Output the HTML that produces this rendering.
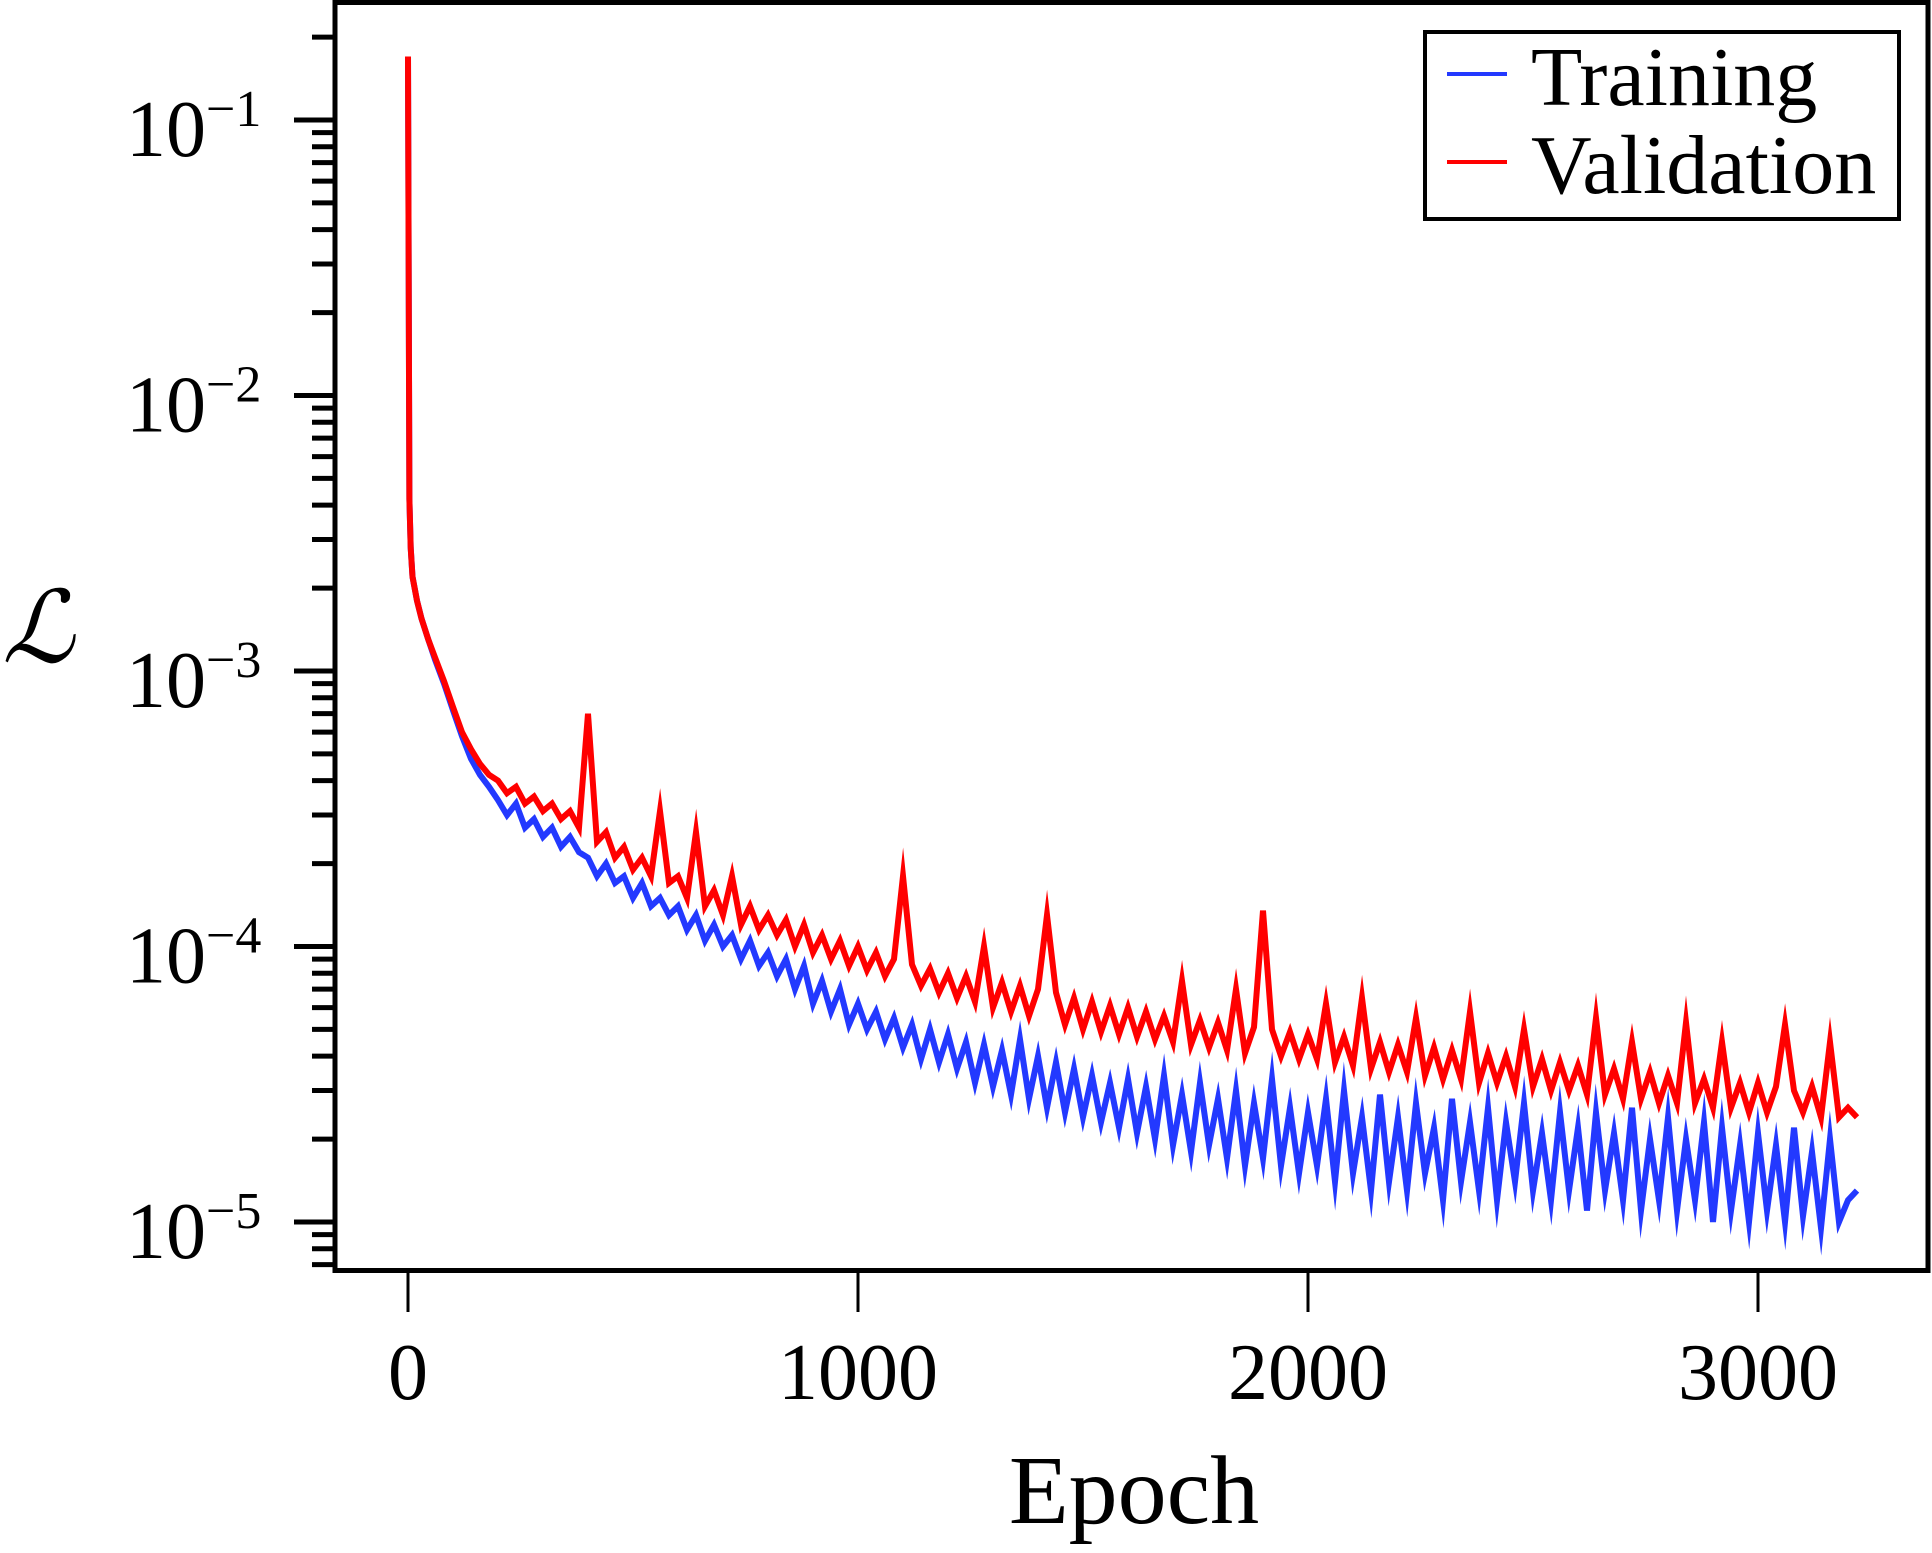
<!DOCTYPE html>
<html><head><meta charset="utf-8"><style>
html,body{margin:0;padding:0;background:#fff;}
svg{display:block;font-family:"Liberation Serif",serif;}
</style></head><body>
<svg id="chart" width="1932" height="1553" viewBox="0 0 1932 1553" xmlns="http://www.w3.org/2000/svg">
<g id="ticks"></g>
<g id="series"></g>
<rect x="335" y="2.5" width="1593" height="1268" fill="none" stroke="#000" stroke-width="5"/>
<text x="38" y="662" font-size="100" font-style="italic" text-anchor="middle" font-family="DejaVu Serif, serif">ℒ</text>
<text x="1134" y="1523" font-size="98" text-anchor="middle">Epoch</text>
<g>
<rect x="1425" y="32" width="474" height="187" fill="#fff" stroke="#000" stroke-width="4"/>
<line x1="1447" y1="74" x2="1507" y2="74" stroke="#2339ff" stroke-width="4"/>
<text x="1531" y="105" font-size="84">Training</text>
<line x1="1447" y1="162" x2="1507" y2="162" stroke="#ff0000" stroke-width="4"/>
<text x="1531" y="193" font-size="84">Validation</text>
</g>
</svg>
<script>
const xTicks = [0, 1000, 2000, 3000];
const yDecades = [-1, -2, -3, -4, -5];
const earlyEpochs = [0,3,6,10,20,30,45,60,80,100,120,140,160,180];
const trainingEarly = [17000,420,280,220,180,155,130,110,90,72,58,48,42,38];
const validationEarly = [17000,420,280,220,180,155,130,112,92,74,60,52,46,42];
const trainingLate = [
34,30,33,27,29,25,27,23,25,22,
21,18,20,17,18,15,17,14,15,13,
14,11.5,13,10.5,12,10,11,9,10.5,8.5,
9.5,7.8,9,7,8.5,6.2,7.5,5.8,7,5.2,
6.2,5,5.8,4.6,5.5,4.3,5.2,3.9,5,3.8,
4.8,3.6,4.5,3.2,4.4,3.1,4.2,2.9,4.6,2.8,
4,2.6,3.8,2.5,3.6,2.4,3.4,2.3,3.2,2.2,
3.3,2.1,3.1,2,3.4,1.9,2.9,1.8,3.2,1.9,
2.8,1.7,3,1.6,2.7,1.7,3.3,1.6,2.6,1.5,
2.5,1.6,2.8,1.4,3,1.5,2.4,1.3,2.9,1.4,
2.4,1.3,2.7,1.5,2.2,1.2,2.8,1.4,2.3,1.3,
2.6,1.2,2.3,1.4,2.7,1.3,2.1,1.2,2.5,1.3,
2.2,1.1,2.5,1.3,2.1,1.2,2.6,1.1,2,1.2,
2.4,1.1,2,1.2,2.3,1,2.2,1.1,1.9,1,
2.1,1.1,1.9,1,2.2,1.05,1.8,0.95,2,1,
1.2,1.3];
const validationLate = [
40,36,38,33,35,31,33,29,31,27,
70,24,26,21,23,19,21,18,31,17,
18,15,26,14,16,13,18,12,14,11.5,
13,11,12.5,10,12,9.5,11,9,10.5,8.5,
10,8.2,9.5,7.8,9,18,8.6,7.2,8.3,6.8,
8,6.5,7.8,6.3,10,6,7.4,5.8,7.2,5.6,
7,13,6.8,5.2,6.5,5,6.3,4.9,6.1,4.8,
6,4.7,5.8,4.6,5.6,4.5,7.5,4.4,5.4,4.3,
5.3,4.2,7,4.1,5.1,13.5,5,4,4.9,3.9,
4.8,3.9,6.2,3.8,4.7,3.7,6.5,3.6,4.5,3.5,
4.4,3.5,5.5,3.4,4.3,3.3,4.2,3.3,5.8,3.2,
4.1,3.2,4,3.1,5,3.1,3.9,3,3.8,3,
3.7,2.9,5.5,2.9,3.6,2.8,4.5,2.8,3.5,2.7,
3.4,2.7,5.3,2.7,3.3,2.6,4.5,2.6,3.2,2.5,
3.2,2.5,3.1,5.2,3,2.5,3.1,2.4,4.5,2.4,
2.6,2.4];
const valueUnit = 1e-5;

const NS = "http://www.w3.org/2000/svg";
const xScale = e => 408 + e * 0.45;
const yScale = v => 120 - (Math.log10(v) + 1) * 275.5;
const epochs = earlyEpochs.slice();
for (let i = 0; i < trainingLate.length; i++) epochs.push(200 + 20 * i);
const training = trainingEarly.concat(trainingLate);
const validation = validationEarly.concat(validationLate);

const ticks = document.getElementById('ticks');
function mk(tag, attrs, parent) {
  const el = document.createElementNS(NS, tag);
  for (const k in attrs) el.setAttribute(k, attrs[k]);
  parent.appendChild(el);
  return el;
}
xTicks.forEach(t => {
  const x = xScale(t);
  const l = mk('line', {x1: x, x2: x, y1: 1271, y2: 1312, stroke: '#000', 'stroke-width': 3}, ticks);
  
  
  const tx = mk('text', {x: x, y: 1399, 'font-size': 80, 'text-anchor': 'middle'}, ticks);
  
  
  tx.textContent = t;
});
yDecades.forEach(d => {
  const y = yScale(Math.pow(10, d));
  const l = mk('line', {x1: 294, x2: 335, y1: y, y2: y, stroke: '#000', 'stroke-width': 5}, ticks);
  
  
  const tx = mk('text', {x: 126, y: y + 36, 'font-size': 80}, ticks);
  
  
  tx.textContent = '10';
  const sup = mk('tspan', {dy: -30, 'font-size': 52}, tx);
  sup.textContent = '\u2212' + (-d);
  for (let m = 2; m <= 9; m++) {
    [d, d - 1].forEach(dd => {
      const ym = yScale(m * Math.pow(10, dd));
      if (ym < 5 || ym > 1269) return;
      if (dd === d - 1 && d !== -5) return;
      const ml = mk('line', {x1: 312, x2: 335, y1: ym, y2: ym, stroke: '#000', 'stroke-width': 5}, ticks);
      
      
    });
  }
});

const series = document.getElementById('series');
function drawLine(vals, color, name) {
  const d = vals.map((v, i) => (i ? 'L' : 'M') + xScale(epochs[i]).toFixed(1) + ',' + yScale(v * valueUnit).toFixed(1)).join('');
  const p = mk('path', {d: d, fill: 'none', stroke: color, 'stroke-width': 6, 'stroke-linejoin': 'miter', 'stroke-miterlimit': 10}, series);
  
  
}
drawLine(training, '#2339ff', 'training-line');
drawLine(validation, '#ff0000', 'validation-line');
</script>
</body></html>
